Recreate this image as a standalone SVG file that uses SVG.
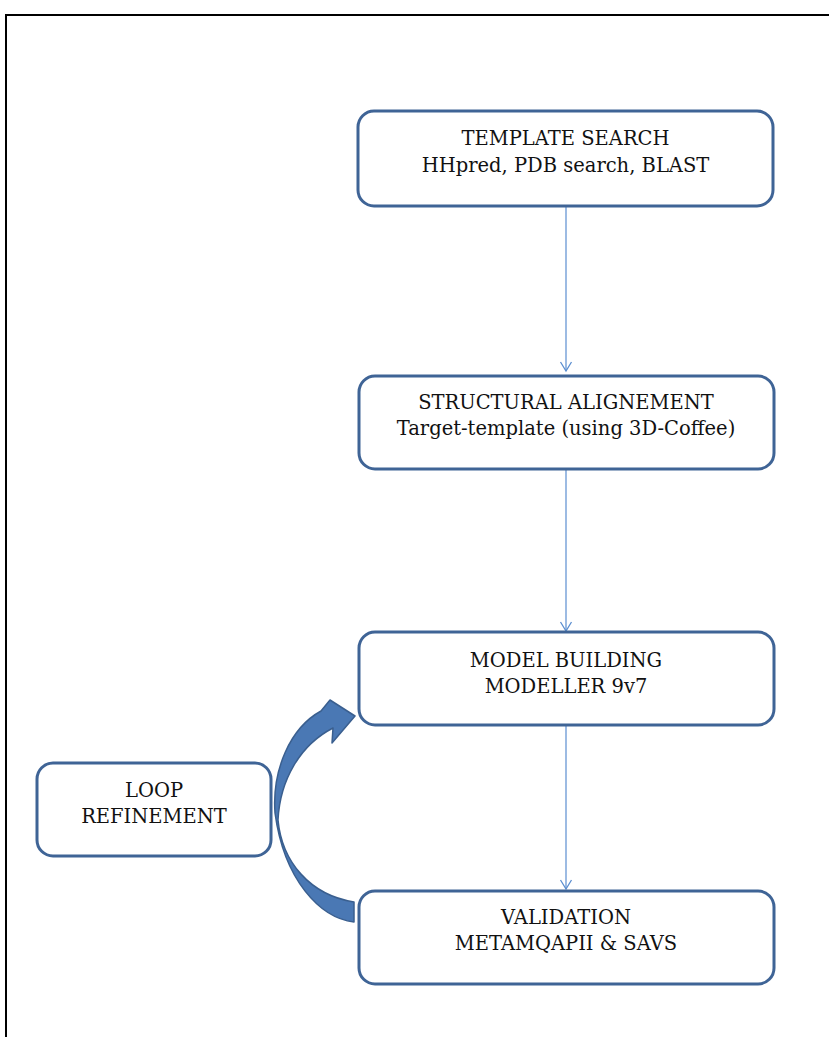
<svg xmlns="http://www.w3.org/2000/svg" width="829" height="1037" viewBox="0 0 829 1037">
<style>
.box{fill:#fff;stroke:#3f6496;stroke-width:3}
.t{font-family:"DejaVu Serif","Liberation Serif",serif;font-size:19.5px;fill:#111;text-anchor:middle}
.conn{stroke:#5b8ed0;stroke-width:1.2;fill:none}
</style>
<defs>
<marker id="ah" markerWidth="14" markerHeight="14" refX="10" refY="7" orient="auto" markerUnits="userSpaceOnUse">
<path d="M1,1.5 L10,7 L1,12.5" fill="none" stroke="#5b8ed0" stroke-width="1.3"/>
</marker>
</defs>
<rect width="829" height="1037" fill="#fff"/>
<path d="M6,1037 V15 H829" fill="none" stroke="#000" stroke-width="2"/>
<g id="connectors">
<line class="conn" x1="566" y1="206" x2="566" y2="371" marker-end="url(#ah)"/>
<line class="conn" x1="566" y1="469" x2="566" y2="631" marker-end="url(#ah)"/>
<line class="conn" x1="566" y1="725" x2="566" y2="889" marker-end="url(#ah)"/>
<path id="loop-arrow" d="M354,922 C320,918 284,880 275,813 C272,770 290,728 321,711 L330,700 L355,716 L332,743 L333,728 C300,745 280,780 278,820 C282,862 310,895 354,902 Z" fill="#4a78b4" stroke="#3a5f8f" stroke-width="1.5" stroke-linejoin="round"/>
</g>
<g id="template-search">
<rect class="box" x="358" y="111" width="415" height="95" rx="16"/>
<text class="t" x="565.5" y="145">TEMPLATE SEARCH</text>
<text class="t" x="565.5" y="172">HHpred, PDB search, BLAST</text>
</g>
<g id="structural-alignement">
<rect class="box" x="359" y="376" width="415" height="93" rx="16"/>
<text class="t" x="566" y="409">STRUCTURAL ALIGNEMENT</text>
<text class="t" x="566" y="435">Target-template (using 3D-Coffee)</text>
</g>
<g id="model-building">
<rect class="box" x="359" y="632" width="415" height="93" rx="16"/>
<text class="t" x="566" y="667">MODEL BUILDING</text>
<text class="t" x="566" y="693">MODELLER 9v7</text>
</g>
<g id="validation">
<rect class="box" x="359" y="891" width="415" height="93" rx="16"/>
<text class="t" x="566" y="924">VALIDATION</text>
<text class="t" x="566" y="950">METAMQAPII &amp; SAVS</text>
</g>
<g id="loop-refinement">
<rect class="box" x="37" y="763" width="234" height="93" rx="16"/>
<text class="t" x="154" y="797">LOOP</text>
<text class="t" x="154" y="823">REFINEMENT</text>
</g>
</svg>
